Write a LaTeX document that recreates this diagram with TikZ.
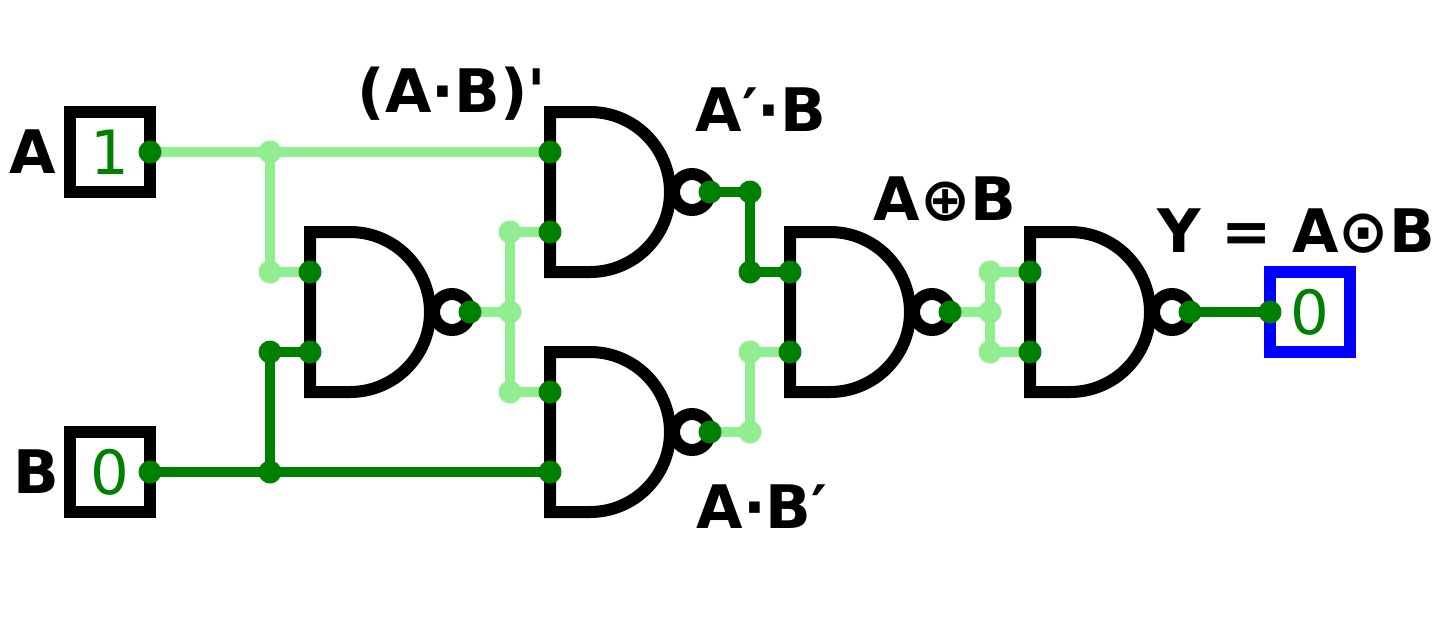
\documentclass[tikz,border=0pt]{standalone}
\usepackage{fontspec}
\newfontfamily\lblfont{DejaVu Sans}
\newfontfamily\digitfont{DejaVu Sans}
\usepackage{tikz}
\definecolor{wirehigh}{HTML}{90EE90}
\definecolor{wirelow}{HTML}{008000}
\definecolor{pindot}{HTML}{008000}
\definecolor{outblue}{HTML}{0000FF}
\tikzset{
  gate/.style={draw=black, line width=12pt, fill=white},
  high/.style={draw=wirehigh, line width=10.5pt},
  low/.style={draw=wirelow, line width=10.5pt},
  lbl/.style={font=\lblfont\bfseries\fontsize{60}{72}\selectfont, anchor=base, inner sep=0pt},
  inbox/.style={draw=black, line width=12pt, minimum size=80pt, inner sep=0pt,
    font=\digitfont\fontsize{61}{70}\selectfont, text=wirelow},
  outbox/.style={inbox, draw=outblue},
}

\begin{document}
\begin{tikzpicture}[x=1pt, y=-1pt]
  \useasboundingbox (0,0) rectangle (1439,635);
  % Inputs and output
  \node[inbox] (ina) at (110,152) {1};
  \node[inbox] (inb) at (110,472) {0};
  \node[outbox] (outy) at (1310,312) {0};
  \coordinate (ina-o) at (150,152);
  \coordinate (inb-o) at (150,472);
  \coordinate (outy-i) at (1270,312);
  % Gates
  \foreach \g/\gx/\gy in {na/310/312, nb/550/192, nc/550/432, nd/790/312, ne/1030/312} {
    \draw[gate] (\gx,\gy-80) -- (\gx+40,\gy-80) arc[start angle=90, end angle=-90, radius=80pt]
      -- (\gx,\gy+80) -- cycle;
    \draw[gate] (\gx+142,\gy) circle[radius=18pt];
    \coordinate (\g-in1) at (\gx,\gy-40);
    \coordinate (\g-in2) at (\gx,\gy+40);
    \coordinate (\g-out) at (\gx+160,\gy);
  }
  % Junctions
  \coordinate (ja) at (270,152);
  \coordinate (ja2) at (270,272);
  \coordinate (jb) at (270,472);
  \coordinate (jb2) at (270,352);
  \coordinate (j1) at (510,312);
  \coordinate (j1a) at (510,232);
  \coordinate (j1b) at (510,392);
  \coordinate (j2) at (750,192);
  \coordinate (j2a) at (750,272);
  \coordinate (j3) at (750,432);
  \coordinate (j3a) at (750,352);
  \coordinate (j4) at (990,312);
  \coordinate (j4a) at (990,272);
  \coordinate (j4b) at (990,352);
  % Wires
  \draw[high] (ina-o) -- (ja) -- (nb-in1);
  \draw[high] (ja) -- (ja2) -- (na-in1);
  \draw[low] (inb-o) -- (jb) -- (nc-in2);
  \draw[low] (jb) -- (jb2) -- (na-in2);
  \draw[high] (na-out) -- (j1);
  \draw[high] (j1b) -- (j1a) -- (nb-in2);
  \draw[high] (j1b) -- (nc-in1);
  \draw[low] (nb-out) -- (j2) -- (j2a) -- (nd-in1);
  \draw[high] (nc-out) -- (j3) -- (j3a) -- (nd-in2);
  \draw[high] (nd-out) -- (j4);
  \draw[high] (j4b) -- (j4a) -- (ne-in1);
  \draw[high] (j4b) -- (ne-in2);
  \draw[low] (ne-out) -- (outy-i);
  % Dots
  \foreach \p in {ja, ja2, j1, j1a, j1b, j3, j3a, j4, j4a, j4b}
    \fill[wirehigh] (\p) circle[radius=11.5pt];
  \foreach \p in {jb, jb2, j2, j2a, ina-o, inb-o, outy-i,
      na-in1, na-in2, na-out, nb-in1, nb-in2, nb-out, nc-in1, nc-in2, nc-out,
      nd-in1, nd-in2, nd-out, ne-in1, ne-in2, ne-out}
    \fill[pindot] (\p) circle[radius=11.5pt];
  % Labels
  \node[lbl] (lab-a) at (33,173) {A};
  \node[lbl] (lab-b) at (36,493) {B};
  \node[lbl] (lab-nand) at (452,112) {(A·B)'};
  \node[lbl] (lab-anb) at (761,131) {A′·B};
  \node[lbl] (lab-abn) at (762,528) {A·B′};
  \node[lbl] (lab-xor) at (945,220) {A⊕B};
  \node[lbl] (lab-y) at (1296,252) {Y = A⊙B};
\end{tikzpicture}
\end{document}
